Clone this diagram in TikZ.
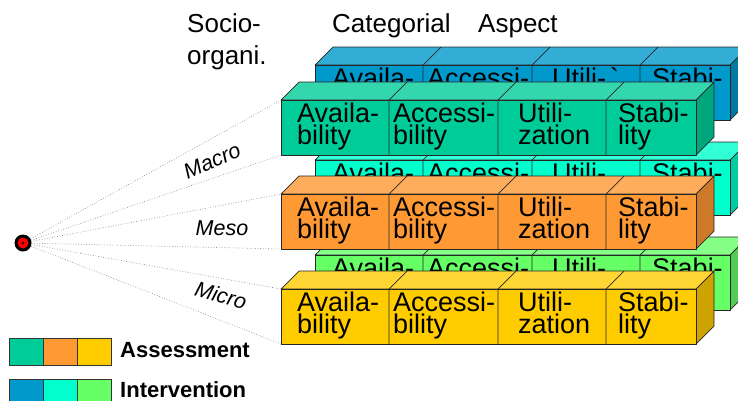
\documentclass[tikz,border=0pt]{standalone}
\usepackage{fontspec}
\setmainfont{Liberation Sans}

% face colours: front / top / side
\definecolor{macroF}{RGB}{0,204,153}\definecolor{macroT}{RGB}{51,214,173}\definecolor{macroS}{RGB}{0,166,124}
\definecolor{mesoF}{RGB}{255,153,51}\definecolor{mesoT}{RGB}{255,173,92}\definecolor{mesoS}{RGB}{204,122,41}
\definecolor{microF}{RGB}{255,204,0}\definecolor{microT}{RGB}{255,214,51}\definecolor{microS}{RGB}{204,163,0}
\definecolor{blueF}{RGB}{0,153,204}\definecolor{blueT}{RGB}{51,173,214}\definecolor{blueS}{RGB}{0,122,163}
\definecolor{cyanF}{RGB}{0,255,204}\definecolor{cyanT}{RGB}{51,255,214}\definecolor{cyanS}{RGB}{0,204,163}
\definecolor{greenF}{RGB}{102,255,102}\definecolor{greenT}{RGB}{133,255,133}\definecolor{greenS}{RGB}{82,204,82}

\tikzset{
  edge/.style={draw=black!85, line width=0.7pt, line join=round},
  celltext/.style={anchor=base west, inner sep=0pt, font=\fontsize{27}{22}\selectfont},
  fan/.style={draw=black!55, dotted, line width=0.6pt},
  levellabel/.style={inner sep=0pt, font=\fontsize{21.5}{25}\selectfont\itshape},
  heading/.style={anchor=base west, inner sep=0pt, font=\fontsize{26}{31}\selectfont},
  legendtext/.style={anchor=base west, inner sep=0pt, font=\fontsize{22}{26}\selectfont\bfseries},
  swatch/.style={draw=black!80, line width=0.7pt},
}

% one row of four prisms: #1 x, #2 y (top-left of front face), #3 front, #4 top, #5 side
\newcommand\prismrow[5]{%
  \filldraw[edge, fill=#4] (#1,#2) -- ++(18,-18) -- ++(415,0) -- ++(-18,18) -- cycle;
  \filldraw[edge, fill=#5] (#1+415,#2) -- ++(18,-18) -- ++(0,55) -- ++(-18,18) -- cycle;
  \filldraw[edge, fill=#3] (#1,#2) rectangle ++(415,55);
  \foreach \d in {108,217,325} {\draw[edge] (#1+\d,#2+55) -- ++(0,-55) -- ++(18,-18);}
}
% labels of a front row (two lines each): #1 x, #2 y, #3 name prefix
\newcommand\fronttexts[3]{%
  \node[celltext] (#3a) at (#1+16,#2+22) {\vtop{\hbox{Availa-}\hbox{bility}}};
  \node[celltext] (#3b) at (#1+112,#2+22) {\vtop{\hbox{Accessi-}\hbox{bility}}};
  \node[celltext] (#3c) at (#1+237,#2+22) {\vtop{\hbox{Utili-}\hbox{zation}}};
  \node[celltext] (#3d) at (#1+337,#2+22) {\vtop{\hbox{Stabi-}\hbox{lity}}};
}
% labels of a back row (only the first line shows above the front row)
\newcommand\backtexts[4]{%
  \node[celltext] (#3a) at (#1+17,#2+22) {Availa-};
  \node[celltext] (#3b) at (#1+112,#2+22) {Accessi-};
  \node[celltext] (#3c) at (#1+237,#2+22) {#4};
  \node[celltext] (#3d) at (#1+337,#2+22) {Stabi-};
}

\begin{document}
\begin{tikzpicture}[x=1pt, y=-1pt]
\clip (0,0) rectangle (738,400);
\fill[white] (0,0) rectangle (738,400);

% headings
\node[heading] (socio) at (187,32) {Socio-};
\node[heading] (organi) at (187,64) {organi.};
\node[heading] (categorial) at (332,32) {Categorial};
\node[heading] (aspect) at (478,32) {Aspect};

% intervention rows (behind)
\prismrow{315}{65}{blueF}{blueT}{blueS}
\backtexts{315}{65}{ib}{Utili-\hspace{4pt}\textasciigrave}
\prismrow{315}{160}{cyanF}{cyanT}{cyanS}
\backtexts{315}{160}{ic}{Utili-}
\prismrow{315}{255}{greenF}{greenT}{greenS}
\backtexts{315}{255}{ig}{Utili-}

% assessment rows (front)
\prismrow{281}{100}{macroF}{macroT}{macroS}
\fronttexts{281}{100}{am}
\prismrow{281}{194}{mesoF}{mesoT}{mesoS}
\fronttexts{281}{194}{ae}
\prismrow{281}{289}{microF}{microT}{microS}
\fronttexts{281}{289}{ai}

% corners the viewing lines run to
\coordinate (macroTop) at (281,100);
\coordinate (macroBot) at (281,155);
\coordinate (mesoTop) at (281,194);
\coordinate (mesoBot) at (281,249);
\coordinate (microTop) at (281,289);
\coordinate (microBot) at (281,344);

% viewpoint
\node[circle, fill=black, minimum size=17pt, inner sep=0pt] (eye) at (23,243) {};
\node[circle, fill=red, minimum size=11pt, inner sep=0pt] (pupil) at (eye) {};
\node[circle, fill=black!70!red, minimum size=3pt, inner sep=0pt] (centre) at (eye) {};

\foreach \c in {macroTop,macroBot,mesoTop,mesoBot,microTop,microBot}
  \draw[fan] (eye) -- (\c);

\node[levellabel, rotate=24] (macro) at (212,161) {Macro};
\node[levellabel] (meso) at (222,228) {Meso};
\node[levellabel, rotate=-16] (micro) at (221,295) {Micro};

% legend
\filldraw[swatch, fill=macroF] (9,338) rectangle (43,365);
\filldraw[swatch, fill=mesoF] (43,338) rectangle (77,365);
\filldraw[swatch, fill=microF] (77,338) rectangle (111,365);
\filldraw[swatch, fill=blueF] (9,379) rectangle (43,406);
\filldraw[swatch, fill=cyanF] (43,379) rectangle (77,406);
\filldraw[swatch, fill=greenF] (77,379) rectangle (111,406);
\node[legendtext] (assess) at (120,357) {Assessment};
\node[legendtext] (interv) at (120,397) {Intervention};
\end{tikzpicture}
\end{document}
